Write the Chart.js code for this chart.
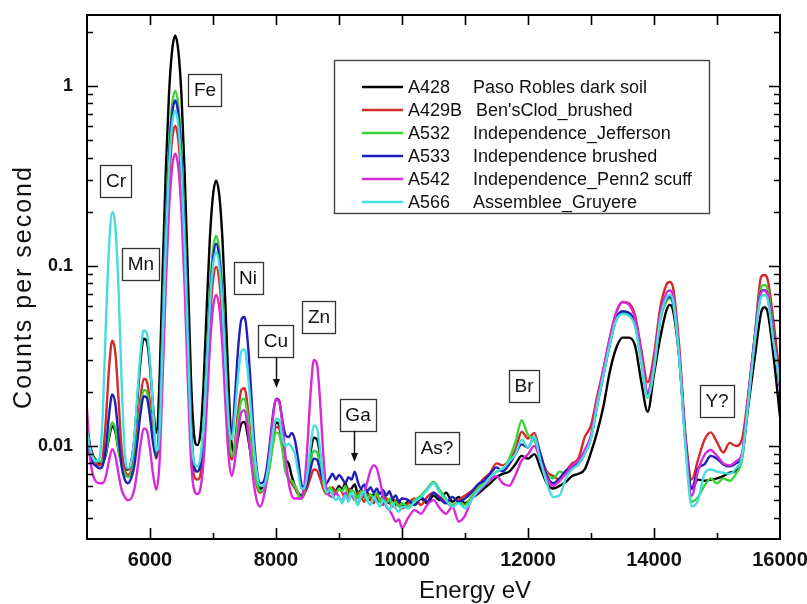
<!DOCTYPE html>
<html>
<head>
<meta charset="utf-8">
<script src="https://cdn.jsdelivr.net/npm/chart.js@4/dist/chart.umd.min.js"></script>
<style>
  html, body { margin: 0; padding: 0; background: #fff; }
  #wrap { width: 807px; height: 604px; position: relative; }
</style>
</head>
<body>
<div id="wrap"><canvas id="c" width="807" height="604"></canvas></div>
<script>
// Energy channels (eV)
const energy = [
  5000,5050,5100,5150,5200,5250,5300,5350,5400,5450,
  5500,5550,5600,5650,5700,5750,5800,5850,5900,5950,
  6000,6050,6100,6150,6200,6250,6300,6350,6400,6450,
  6500,6550,6600,6650,6700,6750,6800,6850,6900,6950,
  7000,7050,7100,7150,7200,7250,7300,7350,7400,7450,
  7500,7550,7600,7650,7700,7750,7800,7850,7900,7950,
  8000,8050,8100,8150,8200,8250,8300,8350,8400,8450,
  8500,8550,8600,8650,8700,8750,8800,8850,8900,8950,
  9000,9050,9100,9150,9200,9250,9300,9350,9400,9450,
  9500,9550,9600,9650,9700,9750,9800,9850,9900,9950,
  10000,
  10100,10200,10300,10400,10500,10600,10700,10800,10900,11000,
  11100,11200,11300,11400,11500,11600,11700,11800,11900,12000,
  12100,12200,12300,12400,12500,12600,12700,12800,12900,13000,
  13100,13200,13300,13400,13500,13600,13700,13800,13900,14000,
  14100,14200,14250,14300,14400,14500,14600,14700,14800,14900,
  15000,15100,15200,15300,15400,15500,15600,15700,15750,15800,
  15900,16000
];

// Counts per second for each target
const a428 = [
  0.013,0.0100,0.0088,0.0083,0.0080,0.0081,0.0090,0.0111,0.0129,0.0120,
  0.0095,0.0081,0.0075,0.0074,0.0081,0.0108,0.0181,0.0298,0.0394,0.0381,
  0.0275,0.0164,0.0118,0.0225,0.091,0.33,0.88,1.56,1.90,1.56,
  0.88,0.33,0.092,0.024,0.0115,0.0101,0.0117,0.0221,0.058,0.142,
  0.247,0.298,0.247,0.141,0.057,0.0203,0.0100,0.0092,0.0112,0.0133,
  0.0136,0.0115,0.0089,0.0070,0.0062,0.0058,0.0059,0.0065,0.0083,0.0111,
  0.0135,0.0131,0.0106,0.0085,0.0080,0.0068,0.0060,0.0055,0.0053,0.0058,
  0.0071,0.0093,0.0111,0.0109,0.0089,0.0068,0.0058,0.0055,0.0058,0.0056,
  0.0060,0.0057,0.0062,0.0055,0.0058,0.0061,0.0054,0.0057,0.0052,0.0055,
  0.0050,0.0054,0.0051,0.0049,0.0053,0.0050,0.0048,0.0051,0.0047,0.0050,
  0.0046,
  0.0049,0.0047,0.0051,0.0048,0.0053,0.0050,0.0055,0.0049,0.0052,0.0048,
  0.0051,0.0054,0.0058,0.0062,0.0067,0.0070,0.0072,0.0079,0.0088,0.0085,
  0.0090,0.0075,0.0062,0.0058,0.0060,0.0063,0.0068,0.0070,0.0074,0.0092,
  0.0120,0.0168,0.026,0.035,0.040,0.040,0.036,0.0225,0.0155,0.025,
  0.040,0.057,0.0608,0.057,0.031,0.0108,0.0058,0.0065,0.0064,0.0065,
  0.0066,0.0068,0.0071,0.0073,0.0088,0.017,0.031,0.055,0.059,0.056,
  0.031,0.0145
];
const a429b = [
  0.0125,0.0098,0.0086,0.0080,0.0078,0.0087,0.0140,0.0271,0.0384,0.0328,
  0.0183,0.0096,0.0074,0.0069,0.0073,0.0087,0.0125,0.0186,0.0236,0.0228,
  0.0173,0.0113,0.0085,0.0115,0.033,0.109,0.283,0.50,0.60,0.50,
  0.283,0.109,0.033,0.0111,0.0068,0.0065,0.0069,0.0103,0.0222,0.049,
  0.0825,0.099,0.0825,0.049,0.0222,0.0104,0.0084,0.0106,0.0156,0.0205,
  0.0209,0.0165,0.0109,0.0074,0.0059,0.0055,0.0057,0.0063,0.0079,0.0106,
  0.0128,0.0125,0.0101,0.0074,0.0066,0.0062,0.0058,0.0054,0.0051,0.0054,
  0.0059,0.0067,0.0074,0.0073,0.0066,0.0058,0.0054,0.0056,0.0059,0.0055,
  0.0058,0.0055,0.0052,0.0058,0.0054,0.0050,0.0055,0.0052,0.0049,0.0054,
  0.0051,0.0048,0.0053,0.0050,0.0047,0.0051,0.0049,0.0046,0.0050,0.0047,
  0.0045,
  0.0048,0.0051,0.0047,0.0052,0.0055,0.0052,0.0049,0.0046,0.0050,0.0053,
  0.0056,0.0060,0.0066,0.0071,0.0080,0.0078,0.0083,0.0095,0.0120,0.0110,
  0.0118,0.0088,0.0072,0.0068,0.0065,0.0072,0.0080,0.0085,0.0112,0.0130,
  0.019,0.027,0.040,0.055,0.063,0.062,0.053,0.034,0.0226,0.032,
  0.059,0.079,0.0815,0.0765,0.036,0.0115,0.0065,0.0084,0.0108,0.0119,
  0.0105,0.0092,0.0104,0.0100,0.0110,0.020,0.041,0.087,0.089,0.085,
  0.048,0.024
];
const a532 = [
  0.0120,0.0095,0.0086,0.0083,0.0082,0.0083,0.0092,0.0115,0.0135,0.0124,
  0.0095,0.0078,0.0070,0.0067,0.0070,0.0082,0.0114,0.0164,0.0205,0.0199,
  0.0154,0.0106,0.0087,0.0141,0.048,0.167,0.44,0.78,0.94,0.78,
  0.44,0.167,0.048,0.0143,0.0079,0.0072,0.0081,0.0132,0.0308,0.0714,
  0.122,0.147,0.122,0.0714,0.0308,0.0130,0.0088,0.0100,0.0139,0.0179,
  0.0183,0.0147,0.0102,0.0073,0.0061,0.0056,0.0057,0.0063,0.0077,0.0100,
  0.0119,0.0116,0.0096,0.0072,0.0066,0.0064,0.0060,0.0055,0.0051,0.0056,
  0.0065,0.0081,0.0094,0.0092,0.0078,0.0063,0.0055,0.0059,0.0056,0.0054,
  0.0058,0.0056,0.0060,0.0053,0.0057,0.0055,0.0051,0.0056,0.0053,0.0050,
  0.0054,0.0051,0.0055,0.0049,0.0052,0.0048,0.0051,0.0047,0.0049,0.0046,
  0.0048,
  0.0046,0.0050,0.0053,0.0058,0.0063,0.0057,0.0051,0.0047,0.0049,0.0047,
  0.0052,0.0058,0.0062,0.0066,0.0072,0.0074,0.0085,0.0105,0.0139,0.0115,
  0.0108,0.0085,0.0070,0.0066,0.0072,0.0070,0.0075,0.0079,0.0090,0.0110,
  0.017,0.025,0.037,0.050,0.055,0.054,0.047,0.029,0.0185,0.027,
  0.050,0.064,0.066,0.062,0.031,0.0105,0.0049,0.0052,0.0060,0.0066,
  0.0062,0.0066,0.0064,0.0070,0.0085,0.018,0.040,0.076,0.0785,0.075,
  0.041,0.021
];
const a533 = [
  0.0110,0.0088,0.0080,0.0077,0.0075,0.0078,0.0098,0.0149,0.0193,0.0171,
  0.0113,0.0077,0.0065,0.0062,0.0066,0.0077,0.0106,0.0152,0.0189,0.0185,
  0.0145,0.0103,0.0087,0.0135,0.0435,0.148,0.389,0.69,0.83,0.69,
  0.389,0.148,0.0435,0.0133,0.0076,0.0072,0.0078,0.0123,0.0282,0.0648,
  0.110,0.133,0.110,0.0648,0.0282,0.0131,0.0115,0.0192,0.0353,0.0503,
  0.0520,0.0384,0.0216,0.0111,0.0072,0.0062,0.0063,0.0074,0.0102,0.0147,
  0.0183,0.0179,0.0140,0.0115,0.0112,0.0118,0.0108,0.0085,0.0062,0.0057,
  0.0063,0.0075,0.0085,0.0084,0.0073,0.0064,0.0062,0.0066,0.0070,0.0065,
  0.0069,0.0066,0.0062,0.0067,0.0065,0.0072,0.0063,0.0058,0.0061,0.0056,
  0.0059,0.0055,0.0058,0.0054,0.0057,0.0053,0.0056,0.0051,0.0053,0.0049,
  0.0051,
  0.0050,0.0047,0.0052,0.0049,0.0055,0.0051,0.0048,0.0052,0.0049,0.0051,
  0.0055,0.0061,0.0064,0.0070,0.0076,0.0072,0.0079,0.0090,0.0102,0.0098,
  0.0112,0.0090,0.0068,0.0062,0.0066,0.0073,0.0076,0.0081,0.0092,0.0112,
  0.017,0.025,0.037,0.051,0.056,0.055,0.048,0.030,0.0196,0.028,
  0.052,0.066,0.0675,0.063,0.032,0.0108,0.0058,0.0075,0.0079,0.0088,
  0.0085,0.0079,0.0077,0.0080,0.0090,0.019,0.040,0.072,0.0736,0.070,
  0.040,0.021
];
const a542 = [
  0.0160,0.0085,0.0068,0.0063,0.0062,0.0062,0.0068,0.0083,0.0096,0.0088,
  0.0070,0.0057,0.0052,0.0050,0.0051,0.0057,0.0074,0.0102,0.0125,0.0122,
  0.0096,0.0069,0.0057,0.0080,0.0232,0.0762,0.198,0.35,0.42,0.35,
  0.198,0.0762,0.0232,0.0085,0.0057,0.0054,0.0058,0.0082,0.0163,0.0353,
  0.0586,0.069,0.0586,0.0353,0.0163,0.0086,0.0068,0.0084,0.0120,0.0154,
  0.0158,0.0126,0.0086,0.0061,0.0049,0.0046,0.0051,0.0064,0.0094,0.0142,
  0.0181,0.0176,0.0133,0.0088,0.0063,0.0053,0.0051,0.0051,0.0051,0.0060,
  0.0102,0.0200,0.0300,0.0285,0.0177,0.0090,0.0057,0.0053,0.0052,0.0055,
  0.0052,0.0049,0.0055,0.0050,0.0053,0.0051,0.0048,0.0052,0.0055,0.0063,
  0.0073,0.0078,0.0075,0.0064,0.0053,0.0046,0.0044,0.0041,0.0038,0.0039,
  0.0035,
  0.0040,0.0044,0.0042,0.0047,0.0050,0.0045,0.0042,0.0046,0.0038,0.0041,
  0.0050,0.0055,0.0060,0.0065,0.0068,0.0062,0.0060,0.0069,0.0083,0.0090,
  0.0100,0.0082,0.0066,0.0060,0.0064,0.0070,0.0078,0.0083,0.0095,0.0115,
  0.018,0.027,0.040,0.055,0.063,0.061,0.051,0.032,0.020,0.029,
  0.055,0.071,0.073,0.069,0.033,0.0105,0.0053,0.0073,0.0089,0.0095,
  0.0088,0.0080,0.0078,0.0082,0.0092,0.019,0.040,0.071,0.073,0.069,
  0.039,0.021
];
const a566 = [
  0.0120,0.0095,0.0085,0.0082,0.0086,0.0149,0.048,0.129,0.199,0.165,
  0.0755,0.0226,0.0092,0.0075,0.0081,0.0111,0.0193,0.0328,0.0438,0.0421,
  0.0295,0.0161,0.0094,0.0117,0.0378,0.130,0.342,0.605,0.73,0.605,
  0.342,0.130,0.0385,0.0120,0.0081,0.0077,0.0086,0.0128,0.0270,0.0598,
  0.1005,0.120,0.1005,0.0598,0.0270,0.0132,0.0109,0.0153,0.0247,0.0336,
  0.0345,0.0262,0.0161,0.0096,0.0069,0.0060,0.0060,0.0067,0.0086,0.0117,
  0.0142,0.0139,0.0111,0.0100,0.0103,0.0098,0.0090,0.0072,0.0058,0.0058,
  0.0071,0.0101,0.0130,0.0126,0.0094,0.0066,0.0055,0.0057,0.0053,0.0050,
  0.0052,0.0048,0.0053,0.0049,0.0055,0.0051,0.0047,0.0053,0.0056,0.0050,
  0.0047,0.0052,0.0049,0.0046,0.0050,0.0047,0.0044,0.0048,0.0045,0.0043,
  0.0046,
  0.0045,0.0049,0.0052,0.0057,0.0062,0.0055,0.0050,0.0046,0.0048,0.0045,
  0.0050,0.0056,0.0061,0.0067,0.0072,0.0075,0.0082,0.0090,0.0108,0.0098,
  0.0112,0.0082,0.0062,0.0052,0.0053,0.0066,0.0074,0.0079,0.0090,0.0110,
  0.017,0.025,0.037,0.050,0.054,0.053,0.046,0.029,0.0187,0.027,
  0.051,0.067,0.069,0.065,0.031,0.0098,0.0046,0.0050,0.0070,0.0074,
  0.0072,0.0071,0.0070,0.0075,0.0088,0.018,0.038,0.067,0.069,0.066,
  0.037,0.022
];

const seriesIds = ['A428', 'A429B', 'A532', 'A533', 'A542', 'A566'];
const seriesNames = ['Paso Robles dark soil', "Ben'sClod_brushed", 'Independence_Jefferson',
                     'Independence brushed', 'Independence_Penn2 scuff', 'Assemblee_Gruyere'];
const seriesValues = [a428, a429b, a532, a533, a542, a566];

const xTickLabels = ['6000', '8000', '10000', '12000', '14000', '16000'];
const yTickValues = [0.01, 0.1, 1];
const yTickLabels = ['0.01', '0.1', '1'];

// Element labels: text, energy (eV) and count level of the label centre
const peakNames  = ['Cr', 'Mn', 'Fe', 'Ni', 'Cu', 'Zn', 'Ga', 'As?', 'Br', 'Y?'];
const peakEnergy = [5460, 5857, 6873, 7556, 8000, 8683, 9302, 10556, 11937, 15000];
const peakLevel  = [0.297, 0.1026, 0.95, 0.0858, 0.0383, 0.052, 0.0149, 0.00975, 0.0215, 0.0178];
// Arrows pointing at the Cu and Ga lines: [energy, level of arrow tip]
const arrowNames  = ['Cu', 'Ga'];
const arrowEnergy = [8000, 9238];
const arrowTip    = [0.021, 0.00815];

// ---- styling ----
const palette = ['#000000', '#d42a2a', '#3ed23a', '#2020b8', '#d82ad8', '#46dce0'];
const FONT = "'Liberation Sans', Arial, Helvetica, sans-serif";
const layoutBox = {
  legend: { left: 334, top: 60, right: 709, bottom: 213, firstRow: 87, rowGap: 23,
            lineX0: 362, lineX1: 403, idX: 408, nameX: 473 },
  xTitle: { x: 475, y: 591 },
  yTitle: { x: 24, y: 287 }
};

const datasets = seriesValues.map((vals, i) => ({
  label: seriesIds[i],
  data: vals.map((v, j) => ({ x: energy[j], y: v })),
  borderColor: palette[i],
  borderWidth: 2.4,
  pointRadius: 0,
  fill: false,
  cubicInterpolationMode: 'monotone',
  order: seriesIds.length - i   // later targets drawn on top
}));

function boxLabel(ctx, text, cx, cy) {
  ctx.font = '19px ' + FONT;
  const w = ctx.measureText(text).width + 11;
  const h = 32;
  ctx.fillStyle = '#fff';
  ctx.fillRect(cx - w / 2, cy - h / 2, w, h);
  ctx.lineWidth = 1.3;
  ctx.strokeStyle = '#333';
  ctx.strokeRect(Math.round(cx - w / 2) + 0.5, Math.round(cy - h / 2) + 0.5, Math.round(w), h);
  ctx.fillStyle = '#111';
  ctx.textAlign = 'center';
  ctx.textBaseline = 'middle';
  ctx.fillText(text, cx, cy + 1);
  return { top: cy - h / 2, bottom: cy + h / 2 };
}

const decorations = {
  id: 'decorations',
  afterDatasetsDraw(chart) {
    const { ctx, chartArea: a, scales: { x, y } } = chart;
    ctx.save();

    // inward tick marks on all four sides
    ctx.strokeStyle = '#000';
    ctx.lineWidth = 1.6;
    ctx.beginPath();
    x.ticks.forEach(t => {
      if (t.value <= x.min || t.value >= x.max) return;
      const px = Math.round(x.getPixelForValue(t.value)) + 0.5;
      const major = t.value % 2000 === 0;
      ctx.moveTo(px, a.bottom); ctx.lineTo(px, a.bottom - (major ? 11 : 6));
      ctx.moveTo(px, a.top);    ctx.lineTo(px, a.top + 10);
    });
    for (let e = -3; e <= 0; e++) {
      for (let k = 1; k <= 9; k++) {
        const v = k * Math.pow(10, e);
        if (v <= y.min || v >= y.max) continue;
        const py = Math.round(y.getPixelForValue(v)) + 0.5;
        const len = k === 1 ? 11 : 6;
        ctx.moveTo(a.left, py);  ctx.lineTo(a.left + len, py);
        ctx.moveTo(a.right, py); ctx.lineTo(a.right - len, py);
      }
    }
    ctx.stroke();

    // plot frame
    ctx.lineWidth = 2;
    ctx.strokeRect(a.left, a.top, a.right - a.left, a.bottom - a.top);

    // element labels
    const boxes = {};
    peakNames.forEach((name, i) => {
      boxes[name] = boxLabel(ctx, name, x.getPixelForValue(peakEnergy[i]), y.getPixelForValue(peakLevel[i]));
    });

    // arrows
    ctx.strokeStyle = '#111';
    ctx.fillStyle = '#111';
    ctx.lineWidth = 1.5;
    arrowNames.forEach((name, i) => {
      const px = Math.round(x.getPixelForValue(arrowEnergy[i])) + 0.5;
      const tip = y.getPixelForValue(arrowTip[i]);
      const start = boxes[name].bottom;
      ctx.beginPath();
      ctx.moveTo(px, start); ctx.lineTo(px, tip - 6);
      ctx.stroke();
      ctx.beginPath();
      ctx.moveTo(px - 3.5, tip - 9); ctx.lineTo(px + 3.5, tip - 9); ctx.lineTo(px, tip);
      ctx.closePath(); ctx.fill();
    });

    // legend
    const L = layoutBox.legend;
    ctx.fillStyle = '#fff';
    ctx.fillRect(L.left, L.top, L.right - L.left, L.bottom - L.top);
    ctx.lineWidth = 1.4;
    ctx.strokeStyle = '#444';
    ctx.strokeRect(L.left + 0.5, L.top + 0.5, L.right - L.left, L.bottom - L.top);
    ctx.font = '18px ' + FONT;
    ctx.textAlign = 'left';
    ctx.textBaseline = 'middle';
    seriesIds.forEach((id, i) => {
      const ry = L.firstRow + i * L.rowGap;
      ctx.strokeStyle = palette[i];
      ctx.lineWidth = 2.6;
      ctx.beginPath();
      ctx.moveTo(L.lineX0, ry); ctx.lineTo(L.lineX1, ry);
      ctx.stroke();
      ctx.fillStyle = '#111';
      ctx.fillText(id, L.idX, ry + 1);
      const idEnd = L.idX + ctx.measureText(id).width;
      ctx.fillText(seriesNames[i], Math.max(L.nameX, idEnd + 14), ry + 1);
    });

    // axis titles
    ctx.fillStyle = '#111';
    ctx.textAlign = 'center';
    ctx.textBaseline = 'middle';
    ctx.font = '24px ' + FONT;
    ctx.fillText('Energy eV', layoutBox.xTitle.x, layoutBox.xTitle.y);
    ctx.save();
    ctx.translate(layoutBox.yTitle.x, layoutBox.yTitle.y);
    ctx.rotate(-Math.PI / 2);
    ctx.font = '25px ' + FONT;
    if ('letterSpacing' in ctx) ctx.letterSpacing = '2px';
    ctx.fillText('Counts per second', 0, 0);
    ctx.restore();

    ctx.restore();
  }
};

new Chart(document.getElementById('c'), {
  type: 'line',
  data: { datasets },
  options: {
    responsive: false,
    animation: false,
    devicePixelRatio: 1,
    layout: { padding: { top: 15, right: 27, left: 0, bottom: 0 } },
    plugins: { legend: { display: false }, tooltip: { enabled: false } },
    scales: {
      x: {
        type: 'linear',
        min: 5000, max: 16000,
        grid: { display: false, drawTicks: false },
        border: { display: false },
        ticks: {
          stepSize: 1000, autoSkip: false, maxRotation: 0, padding: 9,
          color: '#111',
          font: { family: FONT, size: 20, weight: 'bold' },
          callback: v => (xTickLabels.includes(String(v)) ? String(v) : '')
        },
        afterFit: s => { s.height = 65; s.paddingLeft = 0; s.paddingRight = 0; }
      },
      y: {
        type: 'logarithmic',
        min: 0.00304, max: 2.48,
        grid: { display: false, drawTicks: false },
        border: { display: false },
        afterBuildTicks: s => { s.ticks = yTickValues.map(v => ({ value: v })); },
        ticks: {
          padding: 14, color: '#111',
          font: { family: FONT, size: 18, weight: 'bold' },
          callback: v => {
            const k = yTickValues.findIndex(t => Math.abs(t - v) < t * 1e-6);
            return k >= 0 ? yTickLabels[k] : '';
          }
        },
        afterFit: s => { s.width = 87; s.paddingTop = 0; s.paddingBottom = 0; }
      }
    }
  },
  plugins: [decorations]
});
</script>
</body>
</html>
